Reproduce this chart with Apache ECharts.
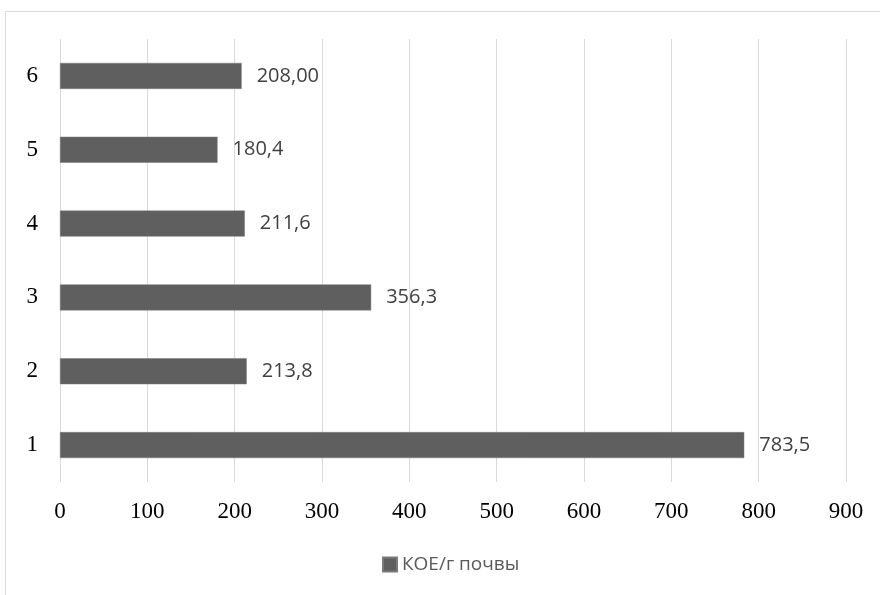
<!DOCTYPE html>
<html>
<head>
<meta charset="utf-8">
<script src="https://cdn.jsdelivr.net/npm/echarts@6/dist/echarts.min.js"></script>
<style>
  html, body { margin: 0; padding: 0; background: #ffffff; }
  #chart { width: 880px; height: 595px; }
</style>
</head>
<body>
<div id="chart"></div>
<script>
// Sample numbers, bottom to top
const categories = ['1', '2', '3', '4', '5', '6'];
// Value labels as printed next to each bar (decimal comma)
const valueLabels = ['783,5', '213,8', '356,3', '211,6', '180,4', '208,00'];
// Bar lengths come from the same printed numbers
const values = valueLabels.map(s => parseFloat(s.replace(',', '.')));
const seriesName = 'КОЕ/г почвы';
const xTicks = { min: 0, max: 900, interval: 100 };

const chart = echarts.init(document.getElementById('chart'), null, { renderer: 'canvas' });

chart.setOption({
  animation: false,
  backgroundColor: '#ffffff',
  graphic: [{
    type: 'rect',
    shape: { x: 5.5, y: 11.5, width: 900, height: 700 },
    style: { fill: 'none', stroke: '#d9d9d9', lineWidth: 1 },
    silent: true,
    z: -10
  }],
  grid: { left: 60, right: 34, top: 39, bottom: 113, containLabel: false },
  legend: {
    top: 555,
    left: 382,
    padding: 0,
    itemWidth: 14,
    itemHeight: 14,
    itemGap: 6,
    icon: 'rect',
    textStyle: { color: '#595959', fontSize: 19, fontFamily: 'Open Sans, Noto Sans, sans-serif' },
    data: [seriesName]
  },
  xAxis: {
    type: 'value',
    min: xTicks.min,
    max: xTicks.max,
    interval: xTicks.interval,
    axisLine: { show: false },
    axisTick: { show: false },
    splitLine: { show: true, lineStyle: { color: '#d9d9d9', width: 1 } },
    axisLabel: {
      color: '#000000',
      fontSize: 23,
      fontFamily: 'Liberation Serif, Times New Roman, serif',
      margin: 18
    }
  },
  yAxis: {
    type: 'category',
    data: categories,
    axisLine: { show: false },
    axisTick: { show: false },
    splitLine: { show: false },
    axisLabel: {
      color: '#000000',
      fontSize: 23,
      fontFamily: 'Liberation Serif, Times New Roman, serif',
      margin: 22
    }
  },
  series: [{
    name: seriesName,
    type: 'bar',
    data: values,
    barWidth: 26,
    itemStyle: { color: '#5f5f5f', borderColor: '#7a7a7a', borderWidth: 0.5 },
    label: {
      show: true,
      position: 'right',
      distance: 15,
      color: '#404040',
      fontSize: 20,
      fontFamily: 'Open Sans, Noto Sans, sans-serif',
      formatter: p => valueLabels[p.dataIndex]
    }
  }]
});
</script>
</body>
</html>
